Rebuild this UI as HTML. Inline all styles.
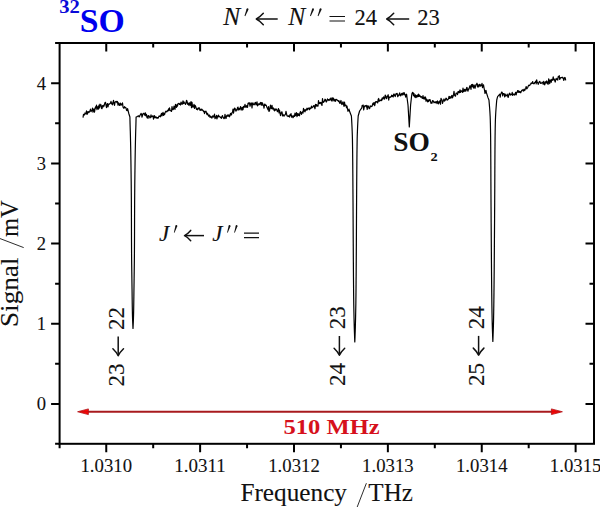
<!DOCTYPE html>
<html><head><meta charset="utf-8"><style>
html,body{margin:0;padding:0;background:#fff;}
svg{display:block;}
text{font-family:"Liberation Serif",serif;fill:#111;stroke:#111;stroke-width:0.1px;}
.b{stroke:none;}
</style></head><body>
<svg width="600" height="507" viewBox="0 0 600 507">
<rect x="0" y="0" width="600" height="507" fill="#fff"/>
<path d="M83.00 117.67 L83.50 114.34 L84.00 114.73 L84.50 114.95 L85.00 112.97 L85.50 113.79 L86.00 113.50 L86.50 110.76 L87.00 114.36 L87.50 113.50 L88.00 111.51 L88.50 111.88 L89.00 112.56 L89.50 111.23 L90.00 111.00 L90.50 109.05 L91.00 111.62 L91.50 110.78 L92.00 110.75 L92.50 108.00 L93.00 112.22 L93.50 109.90 L94.00 108.92 L94.50 112.08 L95.00 108.96 L95.50 106.78 L96.00 108.03 L96.50 105.19 L97.00 109.65 L97.50 107.39 L98.00 106.73 L98.50 109.07 L99.00 105.06 L99.50 107.92 L100.00 104.08 L100.50 105.85 L101.00 104.90 L101.50 108.43 L102.00 108.65 L102.50 105.52 L103.00 106.96 L103.50 105.33 L104.00 106.18 L104.50 104.14 L105.00 102.62 L105.50 102.32 L106.00 105.21 L106.50 107.67 L107.00 104.76 L107.50 103.51 L108.00 106.80 L108.50 104.32 L109.00 103.99 L109.50 104.07 L110.00 103.41 L110.50 103.04 L111.00 101.35 L111.50 103.96 L112.00 103.04 L112.50 104.77 L113.00 102.53 L113.50 100.34 L114.00 102.86 L114.50 105.38 L115.00 102.47 L115.50 101.78 L116.00 101.37 L116.50 101.60 L117.00 102.68 L117.50 101.48 L118.00 105.27 L118.50 102.83 L119.00 103.43 L119.50 105.35 L120.00 105.50 L120.50 103.17 L121.00 104.07 L121.50 105.03 L122.00 104.34 L122.50 102.86 L123.00 107.04 L123.50 108.12 L124.00 108.07 L124.50 106.61 L125.00 107.82 L125.50 107.38 L126.00 107.87 L126.50 110.18 L127.00 110.60 L127.50 109.51 L127.60 108.60 L128.80 113.50 L129.90 117.00 L129.99 120.58 L130.08 124.17 L130.18 127.75 L130.30 131.34 L130.40 134.92 L130.48 138.51 L130.57 142.09 L130.64 145.68 L130.72 149.26 L130.78 152.85 L130.84 156.43 L130.90 160.02 L130.95 163.60 L131.00 167.19 L131.05 170.77 L131.10 174.36 L131.14 177.94 L131.19 181.53 L131.23 185.11 L131.26 188.69 L131.29 192.28 L131.32 195.86 L131.35 199.45 L131.37 203.03 L131.38 206.62 L131.40 210.20 L131.41 213.79 L131.43 217.37 L131.44 220.96 L131.45 224.54 L131.46 228.13 L131.47 231.71 L131.48 235.30 L131.49 238.88 L131.51 242.47 L131.53 246.05 L131.55 249.64 L131.57 253.22 L131.60 256.81 L131.64 260.39 L131.68 263.97 L131.73 267.56 L131.78 271.14 L131.83 274.73 L131.88 278.31 L131.93 281.90 L131.98 285.48 L132.04 289.07 L132.09 292.65 L132.13 296.24 L132.18 299.82 L132.23 303.41 L132.29 306.99 L132.35 310.58 L132.43 314.16 L132.53 317.75 L132.66 321.33 L132.83 324.92 L133.00 328.50 L133.17 324.92 L133.34 321.33 L133.47 317.75 L133.57 314.16 L133.65 310.58 L133.71 306.99 L133.77 303.41 L133.82 299.82 L133.87 296.24 L133.91 292.65 L133.96 289.07 L134.02 285.48 L134.07 281.90 L134.12 278.31 L134.17 274.73 L134.22 271.14 L134.27 267.56 L134.32 263.97 L134.36 260.39 L134.40 256.81 L134.43 253.22 L134.45 249.64 L134.47 246.05 L134.49 242.47 L134.51 238.88 L134.52 235.30 L134.53 231.71 L134.54 228.13 L134.55 224.54 L134.56 220.96 L134.57 217.37 L134.59 213.79 L134.60 210.20 L134.62 206.62 L134.63 203.03 L134.65 199.45 L134.68 195.86 L134.71 192.28 L134.74 188.69 L134.77 185.11 L134.81 181.53 L134.86 177.94 L134.90 174.36 L134.95 170.77 L135.00 167.19 L135.05 163.60 L135.10 160.02 L135.16 156.43 L135.22 152.85 L135.28 149.26 L135.36 145.68 L135.43 142.09 L135.52 138.51 L135.60 134.92 L135.70 131.34 L135.82 127.75 L135.92 124.17 L136.01 120.58 L136.10 117.00 L137.20 116.60 L138.60 115.80 L139.00 116.85 L139.50 116.61 L140.00 115.19 L140.50 114.65 L141.00 113.43 L141.50 114.02 L142.00 117.16 L142.50 115.24 L143.00 113.62 L143.50 113.55 L144.00 113.14 L144.50 115.05 L145.00 115.27 L145.50 112.91 L146.00 115.83 L146.50 114.57 L147.00 117.58 L147.50 116.02 L148.00 118.40 L148.50 115.52 L149.00 115.91 L149.50 116.85 L150.00 117.98 L150.50 117.34 L151.00 114.87 L151.50 116.91 L152.00 116.73 L152.50 116.14 L153.00 115.87 L153.50 119.27 L154.00 116.31 L154.50 115.70 L155.00 117.81 L155.50 117.12 L156.00 116.85 L156.50 118.07 L157.00 117.67 L157.50 117.50 L158.00 118.35 L158.50 117.37 L159.00 116.04 L159.50 116.29 L160.00 115.92 L160.50 116.76 L161.00 114.74 L161.50 113.43 L162.00 115.85 L162.50 113.55 L163.00 112.37 L163.50 115.29 L164.00 113.41 L164.50 114.73 L165.00 112.92 L165.50 111.71 L166.00 111.15 L166.50 111.78 L167.00 111.73 L167.50 110.58 L168.00 110.97 L168.50 108.84 L169.00 110.67 L169.50 107.80 L170.00 109.73 L170.50 110.67 L171.00 110.90 L171.50 111.45 L172.00 106.54 L172.50 109.45 L173.00 109.74 L173.50 109.09 L174.00 106.08 L174.50 107.62 L175.00 109.33 L175.50 104.31 L176.00 106.76 L176.50 107.36 L177.00 104.54 L177.50 106.07 L178.00 103.50 L178.50 103.61 L179.00 103.34 L179.50 104.49 L180.00 103.82 L180.50 105.02 L181.00 102.12 L181.50 103.03 L182.00 104.35 L182.50 103.62 L183.00 100.86 L183.50 103.56 L184.00 101.93 L184.50 103.15 L185.00 103.08 L185.50 104.43 L186.00 102.97 L186.50 100.32 L187.00 101.12 L187.50 104.20 L188.00 102.97 L188.50 105.08 L189.00 104.04 L189.50 102.78 L190.00 105.52 L190.50 103.07 L191.00 101.60 L191.50 107.67 L192.00 102.45 L192.50 106.39 L193.00 107.21 L193.50 106.50 L194.00 104.33 L194.50 108.48 L195.00 105.40 L195.50 105.85 L196.00 107.49 L196.50 109.34 L197.00 108.86 L197.50 109.77 L198.00 108.20 L198.50 108.75 L199.00 107.56 L199.50 108.86 L200.00 110.29 L200.50 109.20 L201.00 110.44 L201.50 109.14 L202.00 109.29 L202.50 110.37 L203.00 110.25 L203.50 111.58 L204.00 111.25 L204.50 113.75 L205.00 111.40 L205.50 111.84 L206.00 111.21 L206.50 113.22 L207.00 114.68 L207.50 113.21 L208.00 114.67 L208.50 116.18 L209.00 115.37 L209.50 115.10 L210.00 117.36 L210.50 116.25 L211.00 116.77 L211.50 117.96 L212.00 118.01 L212.50 116.01 L213.00 115.84 L213.50 117.05 L214.00 116.54 L214.50 114.13 L215.00 118.63 L215.50 116.92 L216.00 117.96 L216.50 115.32 L217.00 118.79 L217.50 116.17 L218.00 116.85 L218.50 115.04 L219.00 116.77 L219.50 116.68 L220.00 116.74 L220.50 117.61 L221.00 117.08 L221.50 118.37 L222.00 116.34 L222.50 115.61 L223.00 116.97 L223.50 117.88 L224.00 118.74 L224.50 118.10 L225.00 114.37 L225.50 117.20 L226.00 118.51 L226.50 116.32 L227.00 115.25 L227.50 116.16 L228.00 114.80 L228.50 116.18 L229.00 115.04 L229.50 116.77 L230.00 115.27 L230.50 113.28 L231.00 114.85 L231.50 114.97 L232.00 112.47 L232.50 112.23 L233.00 109.15 L233.50 113.18 L234.00 110.65 L234.50 108.09 L235.00 108.22 L235.50 110.06 L236.00 111.12 L236.50 109.63 L237.00 110.13 L237.50 107.65 L238.00 107.06 L238.50 109.95 L239.00 109.19 L239.50 108.27 L240.00 109.94 L240.50 106.66 L241.00 107.26 L241.50 109.15 L242.00 110.15 L242.50 107.46 L243.00 109.66 L243.50 106.31 L244.00 107.46 L244.50 106.58 L245.00 104.39 L245.50 106.76 L246.00 107.47 L246.50 105.71 L247.00 105.56 L247.50 107.36 L248.00 103.42 L248.50 102.84 L249.00 103.80 L249.50 102.84 L250.00 106.23 L250.50 104.63 L251.00 102.88 L251.50 103.16 L252.00 108.01 L252.50 103.15 L253.00 102.94 L253.50 104.44 L254.00 104.91 L254.50 104.34 L255.00 102.77 L255.50 102.44 L256.00 104.92 L256.50 104.03 L257.00 101.83 L257.50 105.79 L258.00 105.26 L258.50 103.87 L259.00 103.87 L259.50 104.59 L260.00 103.34 L260.50 102.47 L261.00 104.90 L261.50 102.57 L262.00 105.29 L262.50 102.92 L263.00 105.01 L263.50 105.19 L264.00 108.11 L264.50 104.38 L265.00 104.14 L265.50 105.48 L266.00 105.06 L266.50 106.05 L267.00 107.69 L267.50 108.39 L268.00 109.82 L268.50 106.64 L269.00 111.52 L269.50 110.75 L270.00 107.84 L270.50 105.05 L271.00 108.28 L271.50 108.63 L272.00 105.45 L272.50 108.91 L273.00 108.67 L273.50 108.00 L274.00 110.13 L274.50 110.83 L275.00 108.92 L275.50 110.11 L276.00 109.08 L276.50 109.14 L277.00 110.65 L277.50 111.60 L278.00 110.44 L278.50 108.50 L279.00 112.81 L279.50 110.15 L280.00 112.93 L280.50 115.61 L281.00 113.43 L281.50 112.09 L282.00 111.95 L282.50 115.86 L283.00 114.43 L283.50 115.44 L284.00 116.21 L284.50 115.06 L285.00 114.90 L285.50 114.19 L286.00 111.36 L286.50 113.69 L287.00 115.82 L287.50 115.73 L288.00 116.56 L288.50 115.82 L289.00 116.20 L289.50 117.05 L290.00 114.67 L290.50 115.47 L291.00 113.57 L291.50 117.12 L292.00 115.74 L292.50 116.30 L293.00 117.70 L293.50 116.96 L294.00 115.28 L294.50 116.38 L295.00 113.18 L295.50 115.70 L296.00 115.19 L296.50 112.63 L297.00 116.65 L297.50 113.66 L298.00 115.45 L298.50 113.75 L299.00 115.55 L299.50 115.81 L300.00 112.62 L300.50 111.44 L301.00 113.18 L301.50 114.34 L302.00 112.41 L302.50 111.84 L303.00 113.15 L303.50 108.37 L304.00 111.07 L304.50 109.81 L305.00 111.89 L305.50 110.16 L306.00 109.31 L306.50 110.05 L307.00 108.16 L307.50 109.85 L308.00 108.56 L308.50 108.64 L309.00 107.82 L309.50 109.76 L310.00 108.00 L310.50 108.57 L311.00 108.21 L311.50 106.13 L312.00 107.80 L312.50 107.25 L313.00 106.98 L313.50 105.76 L314.00 105.52 L314.50 107.01 L315.00 108.78 L315.50 104.37 L316.00 106.09 L316.50 104.65 L317.00 106.08 L317.50 105.41 L318.00 106.09 L318.50 100.50 L319.00 103.38 L319.50 102.63 L320.00 103.65 L320.50 102.56 L321.00 102.43 L321.50 104.02 L322.00 105.45 L322.50 98.55 L323.00 101.78 L323.50 102.37 L324.00 101.66 L324.50 100.89 L325.00 99.22 L325.50 99.54 L326.00 101.65 L326.50 101.94 L327.00 100.39 L327.50 98.94 L328.00 100.13 L328.50 99.57 L329.00 100.58 L329.50 99.90 L330.00 98.79 L330.50 99.85 L331.00 97.87 L331.50 100.62 L332.00 101.09 L332.50 97.76 L333.00 99.99 L333.50 98.03 L334.00 100.99 L334.50 100.86 L335.00 99.40 L335.50 101.28 L336.00 99.48 L336.50 99.39 L337.00 99.73 L337.50 100.56 L338.00 100.56 L338.50 101.48 L339.00 100.65 L339.50 102.83 L340.00 103.43 L340.50 101.54 L341.00 100.48 L341.50 103.74 L342.00 104.59 L342.50 103.05 L343.00 101.77 L343.50 104.27 L344.00 106.37 L344.50 101.98 L345.00 105.67 L345.50 105.09 L346.00 105.04 L346.50 107.75 L347.00 106.09 L347.50 109.15 L348.00 111.29 L348.50 110.23 L349.00 109.05 L349.20 110.30 L350.70 114.20 L351.40 116.00 L351.64 119.83 L351.85 123.66 L352.03 127.49 L352.18 131.32 L352.33 135.15 L352.43 138.98 L352.49 142.81 L352.55 146.64 L352.60 150.47 L352.65 154.31 L352.69 158.14 L352.73 161.97 L352.76 165.80 L352.79 169.63 L352.82 173.46 L352.85 177.29 L352.88 181.12 L352.90 184.95 L352.93 188.78 L352.95 192.61 L352.98 196.44 L353.00 200.27 L353.03 204.10 L353.05 207.93 L353.07 211.76 L353.09 215.59 L353.11 219.42 L353.13 223.25 L353.15 227.08 L353.17 230.92 L353.19 234.75 L353.21 238.58 L353.23 242.41 L353.26 246.24 L353.28 250.07 L353.31 253.90 L353.33 257.73 L353.36 261.56 L353.39 265.39 L353.41 269.22 L353.44 273.05 L353.47 276.88 L353.51 280.71 L353.54 284.54 L353.57 288.37 L353.61 292.20 L353.65 296.03 L353.70 299.86 L353.75 303.69 L353.82 307.53 L353.89 311.36 L353.97 315.19 L354.05 319.02 L354.15 322.85 L354.25 326.68 L354.36 330.51 L354.50 334.34 L354.64 338.17 L354.80 342.00 L354.96 338.17 L355.10 334.34 L355.24 330.51 L355.35 326.68 L355.45 322.85 L355.55 319.02 L355.63 315.19 L355.71 311.36 L355.78 307.53 L355.85 303.69 L355.90 299.86 L355.95 296.03 L355.99 292.20 L356.03 288.37 L356.06 284.54 L356.09 280.71 L356.13 276.88 L356.16 273.05 L356.19 269.22 L356.21 265.39 L356.24 261.56 L356.27 257.73 L356.29 253.90 L356.32 250.07 L356.34 246.24 L356.37 242.41 L356.39 238.58 L356.41 234.75 L356.43 230.92 L356.45 227.08 L356.47 223.25 L356.49 219.42 L356.51 215.59 L356.53 211.76 L356.55 207.93 L356.57 204.10 L356.60 200.27 L356.62 196.44 L356.65 192.61 L356.67 188.78 L356.70 184.95 L356.72 181.12 L356.75 177.29 L356.78 173.46 L356.81 169.63 L356.84 165.80 L356.87 161.97 L356.91 158.14 L356.95 154.31 L357.00 150.47 L357.05 146.64 L357.11 142.81 L357.17 138.98 L357.27 135.15 L357.42 131.32 L357.57 127.49 L357.75 123.66 L357.96 119.83 L358.20 116.00 L359.60 111.00 L361.80 107.90 L362.20 105.35 L362.70 105.98 L363.20 105.13 L363.70 109.88 L364.20 107.22 L364.70 106.03 L365.20 105.60 L365.70 105.85 L366.20 106.80 L366.70 105.40 L367.20 109.46 L367.70 105.97 L368.20 105.83 L368.70 107.25 L369.20 108.74 L369.70 108.43 L370.20 105.76 L370.70 106.62 L371.20 106.25 L371.70 106.53 L372.20 105.86 L372.70 103.86 L373.20 103.08 L373.70 104.74 L374.20 102.48 L374.70 105.67 L375.20 103.45 L375.70 101.58 L376.20 102.21 L376.70 101.60 L377.20 101.80 L377.70 103.00 L378.20 99.37 L378.70 98.50 L379.20 101.31 L379.70 100.31 L380.20 100.51 L380.70 100.64 L381.20 99.49 L381.70 100.60 L382.20 97.98 L382.70 99.06 L383.20 97.57 L383.70 96.91 L384.20 99.12 L384.70 98.83 L385.20 95.10 L385.70 96.05 L386.20 97.83 L386.70 98.73 L387.20 96.12 L387.70 96.61 L388.20 94.72 L388.70 100.04 L389.20 97.02 L389.70 97.45 L390.20 96.96 L390.70 97.19 L391.20 96.59 L391.70 95.12 L392.20 96.50 L392.70 95.43 L393.20 97.01 L393.70 94.04 L394.20 94.19 L394.70 95.76 L395.20 96.50 L395.70 94.78 L396.20 93.45 L396.70 94.16 L397.20 93.50 L397.70 96.74 L398.20 95.23 L398.70 95.64 L399.20 94.20 L399.70 92.91 L400.20 95.26 L400.70 95.88 L401.20 94.34 L401.70 93.47 L402.20 95.02 L402.70 93.05 L403.20 94.75 L403.70 92.84 L404.20 92.65 L404.70 94.97 L405.20 94.80 L405.70 97.12 L406.20 94.13 L406.70 94.62 L406.80 96.00 L408.00 105.00 L409.30 127.00 L410.60 105.00 L411.60 96.00 L412.00 93.40 L412.50 92.42 L413.00 92.57 L413.50 95.74 L414.00 93.47 L414.50 96.72 L415.00 97.16 L415.50 94.80 L416.00 97.55 L416.50 95.58 L417.00 96.88 L417.50 95.03 L418.00 96.74 L418.50 94.16 L419.00 96.48 L419.50 95.13 L420.00 95.79 L420.50 97.08 L421.00 96.68 L421.50 96.59 L422.00 97.98 L422.50 98.36 L423.00 95.56 L423.50 98.54 L424.00 98.94 L424.50 97.20 L425.00 99.07 L425.50 96.97 L426.00 101.16 L426.50 99.14 L427.00 99.70 L427.50 101.82 L428.00 100.26 L428.50 101.61 L429.00 99.59 L429.50 100.52 L430.00 99.60 L430.50 101.45 L431.00 103.32 L431.50 102.28 L432.00 103.24 L432.50 100.56 L433.00 100.75 L433.50 101.32 L434.00 102.76 L434.50 102.44 L435.00 101.89 L435.50 102.75 L436.00 101.64 L436.50 101.78 L437.00 103.60 L437.50 100.91 L438.00 101.95 L438.50 103.90 L439.00 101.74 L439.50 102.54 L440.00 100.65 L440.50 104.18 L441.00 98.23 L441.50 99.71 L442.00 99.74 L442.50 103.38 L443.00 101.50 L443.50 100.52 L444.00 98.97 L444.50 101.15 L445.00 100.66 L445.50 99.38 L446.00 98.11 L446.50 98.48 L447.00 100.12 L447.50 100.03 L448.00 99.44 L448.50 98.84 L449.00 96.28 L449.50 98.51 L450.00 96.67 L450.50 97.84 L451.00 98.09 L451.50 96.16 L452.00 95.33 L452.50 97.82 L453.00 96.60 L453.50 94.90 L454.00 91.30 L454.50 95.14 L455.00 95.80 L455.50 96.20 L456.00 93.39 L456.50 93.14 L457.00 93.13 L457.50 94.63 L458.00 91.52 L458.50 92.72 L459.00 91.30 L459.50 92.69 L460.00 89.86 L460.50 92.30 L461.00 90.81 L461.50 90.94 L462.00 91.74 L462.50 92.35 L463.00 88.13 L463.50 91.66 L464.00 90.78 L464.50 89.34 L465.00 91.47 L465.50 89.53 L466.00 90.84 L466.50 87.97 L467.00 87.36 L467.50 90.08 L468.00 91.20 L468.50 88.86 L469.00 89.05 L469.50 86.98 L470.00 85.64 L470.50 87.06 L471.00 89.36 L471.50 84.54 L472.00 86.36 L472.50 84.28 L473.00 87.02 L473.50 88.00 L474.00 84.95 L474.50 86.03 L475.00 88.37 L475.50 86.28 L476.00 84.57 L476.50 84.33 L477.00 83.20 L477.50 86.93 L478.00 84.63 L478.50 86.98 L479.00 86.56 L479.50 84.29 L480.00 84.36 L480.50 86.12 L481.00 85.21 L481.50 85.55 L482.00 83.34 L482.50 87.58 L483.00 85.89 L483.50 84.76 L484.00 87.84 L484.50 90.15 L485.00 93.51 L485.50 91.04 L486.00 90.45 L486.40 92.60 L487.90 97.40 L488.95 100.00 L489.31 104.09 L489.64 108.19 L489.92 112.28 L490.15 116.37 L490.31 120.47 L490.41 124.56 L490.50 128.65 L490.56 132.75 L490.62 136.84 L490.66 140.93 L490.69 145.03 L490.73 149.12 L490.76 153.21 L490.78 157.31 L490.81 161.40 L490.83 165.49 L490.85 169.58 L490.87 173.68 L490.88 177.77 L490.90 181.86 L490.92 185.96 L490.94 190.05 L490.97 194.14 L490.99 198.24 L491.01 202.33 L491.04 206.42 L491.07 210.52 L491.10 214.61 L491.12 218.70 L491.15 222.80 L491.18 226.89 L491.21 230.98 L491.24 235.08 L491.27 239.17 L491.30 243.26 L491.33 247.36 L491.36 251.45 L491.39 255.54 L491.42 259.64 L491.46 263.73 L491.49 267.82 L491.52 271.92 L491.56 276.01 L491.60 280.10 L491.64 284.19 L491.68 288.29 L491.73 292.38 L491.78 296.47 L491.83 300.57 L491.88 304.66 L491.95 308.75 L492.01 312.85 L492.09 316.94 L492.17 321.03 L492.28 325.13 L492.40 329.22 L492.54 333.31 L492.69 337.41 L492.85 341.50 L493.01 337.41 L493.16 333.31 L493.30 329.22 L493.42 325.13 L493.53 321.03 L493.61 316.94 L493.69 312.85 L493.75 308.75 L493.82 304.66 L493.87 300.57 L493.92 296.47 L493.97 292.38 L494.02 288.29 L494.06 284.19 L494.10 280.10 L494.14 276.01 L494.18 271.92 L494.21 267.82 L494.24 263.73 L494.28 259.64 L494.31 255.54 L494.34 251.45 L494.37 247.36 L494.40 243.26 L494.43 239.17 L494.46 235.08 L494.49 230.98 L494.52 226.89 L494.55 222.80 L494.58 218.70 L494.60 214.61 L494.63 210.52 L494.66 206.42 L494.69 202.33 L494.71 198.24 L494.73 194.14 L494.76 190.05 L494.78 185.96 L494.80 181.86 L494.82 177.77 L494.83 173.68 L494.85 169.58 L494.87 165.49 L494.89 161.40 L494.92 157.31 L494.94 153.21 L494.97 149.12 L495.01 145.03 L495.04 140.93 L495.08 136.84 L495.14 132.75 L495.20 128.65 L495.29 124.56 L495.39 120.47 L495.55 116.37 L495.78 112.28 L496.06 108.19 L496.39 104.09 L496.75 100.00 L497.60 96.60 L499.80 94.20 L500.20 97.09 L500.70 94.10 L501.20 93.28 L501.70 92.10 L502.20 92.28 L502.70 95.90 L503.20 93.65 L503.70 93.50 L504.20 93.79 L504.70 96.93 L505.20 94.13 L505.70 96.01 L506.20 95.63 L506.70 95.63 L507.20 94.06 L507.70 96.18 L508.20 97.47 L508.70 95.08 L509.20 93.79 L509.70 93.19 L510.20 95.17 L510.70 94.42 L511.20 94.54 L511.70 94.59 L512.20 92.39 L512.70 95.43 L513.20 94.55 L513.70 94.00 L514.20 94.29 L514.70 95.11 L515.20 93.73 L515.70 92.29 L516.20 94.92 L516.70 92.49 L517.20 91.88 L517.70 90.50 L518.20 92.49 L518.70 90.80 L519.20 91.32 L519.70 92.46 L520.20 91.66 L520.70 92.82 L521.20 91.60 L521.70 90.39 L522.20 90.26 L522.70 89.78 L523.20 91.16 L523.70 90.03 L524.20 89.17 L524.70 90.66 L525.20 89.34 L525.70 88.26 L526.20 86.50 L526.70 88.91 L527.20 88.26 L527.70 87.55 L528.20 86.35 L528.70 85.23 L529.20 85.50 L529.70 85.54 L530.20 84.46 L530.70 83.89 L531.20 82.94 L531.70 83.64 L532.20 83.16 L532.70 81.55 L533.20 83.57 L533.70 83.62 L534.20 83.68 L534.70 82.41 L535.20 82.38 L535.70 81.11 L536.20 83.88 L536.70 79.92 L537.20 82.45 L537.70 82.61 L538.20 84.36 L538.70 83.22 L539.20 81.92 L539.70 81.30 L540.20 82.28 L540.70 83.43 L541.20 83.31 L541.70 82.90 L542.20 82.14 L542.70 82.71 L543.20 84.30 L543.70 81.24 L544.20 82.71 L544.70 84.80 L545.20 83.17 L545.70 81.63 L546.20 83.06 L546.70 80.95 L547.20 81.87 L547.70 83.86 L548.20 84.15 L548.70 78.90 L549.20 82.05 L549.70 83.58 L550.20 79.86 L550.70 80.77 L551.20 82.30 L551.70 79.30 L552.20 80.44 L552.70 79.57 L553.20 76.83 L553.70 79.90 L554.20 79.05 L554.70 80.50 L555.20 82.03 L555.70 79.95 L556.20 78.39 L556.70 79.44 L557.20 79.01 L557.70 80.09 L558.20 76.59 L558.70 76.92 L559.20 75.66 L559.70 79.35 L560.20 78.47 L560.70 77.60 L561.20 77.49 L561.70 77.70 L562.20 77.21 L562.70 78.07 L563.20 77.84 L563.70 80.50 L564.20 79.03 L564.70 77.46 L565.20 77.83 L565.70 80.37" fill="none" stroke="#000" stroke-width="1.2" stroke-linejoin="round"/>
<path d="M59.60 443.80 L59.60 448.30 M106.25 443.80 L106.25 452.30 M106.25 43.00 L106.25 51.50 M153.19 443.80 L153.19 448.30 M153.19 43.00 L153.19 47.50 M200.12 443.80 L200.12 452.30 M200.12 43.00 L200.12 51.50 M247.06 443.80 L247.06 448.30 M247.06 43.00 L247.06 47.50 M294.00 443.80 L294.00 452.30 M294.00 43.00 L294.00 51.50 M340.94 443.80 L340.94 448.30 M340.94 43.00 L340.94 47.50 M387.87 443.80 L387.87 452.30 M387.87 43.00 L387.87 51.50 M434.81 443.80 L434.81 448.30 M434.81 43.00 L434.81 47.50 M481.75 443.80 L481.75 452.30 M481.75 43.00 L481.75 51.50 M528.69 443.80 L528.69 448.30 M528.69 43.00 L528.69 47.50 M575.62 443.80 L575.62 452.30 M575.62 43.00 L575.62 51.50 M59.60 443.80 L55.10 443.80 M59.60 403.90 L51.10 403.90 M594.00 403.90 L585.50 403.90 M59.60 363.82 L55.10 363.82 M594.00 363.82 L589.50 363.82 M59.60 323.74 L51.10 323.74 M594.00 323.74 L585.50 323.74 M59.60 283.66 L55.10 283.66 M594.00 283.66 L589.50 283.66 M59.60 243.58 L51.10 243.58 M594.00 243.58 L585.50 243.58 M59.60 203.50 L55.10 203.50 M594.00 203.50 L589.50 203.50 M59.60 163.42 L51.10 163.42 M594.00 163.42 L585.50 163.42 M59.60 123.34 L55.10 123.34 M594.00 123.34 L589.50 123.34 M59.60 83.26 L51.10 83.26 M594.00 83.26 L585.50 83.26 M59.60 43.00 L55.10 43.00" fill="none" stroke="#000" stroke-width="2"/>
<rect x="59.6" y="43.0" width="534.40" height="400.80" fill="none" stroke="#000" stroke-width="2"/>
<g font-size="18.6"><text x="106.25" y="471.6" text-anchor="middle" textLength="51.5" lengthAdjust="spacingAndGlyphs">1.0310</text><text x="200.12" y="471.6" text-anchor="middle" textLength="51.5" lengthAdjust="spacingAndGlyphs">1.0311</text><text x="294.00" y="471.6" text-anchor="middle" textLength="51.5" lengthAdjust="spacingAndGlyphs">1.0312</text><text x="387.87" y="471.6" text-anchor="middle" textLength="51.5" lengthAdjust="spacingAndGlyphs">1.0313</text><text x="481.75" y="471.6" text-anchor="middle" textLength="51.5" lengthAdjust="spacingAndGlyphs">1.0314</text><text x="575.62" y="471.6" text-anchor="middle" textLength="51.5" lengthAdjust="spacingAndGlyphs">1.0315</text><text x="46.1" y="410.20" text-anchor="end">0</text><text x="46.1" y="330.04" text-anchor="end">1</text><text x="46.1" y="249.88" text-anchor="end">2</text><text x="46.1" y="169.72" text-anchor="end">3</text><text x="46.1" y="89.56" text-anchor="end">4</text></g>
<text x="59.3" y="12.6" font-size="18" font-weight="bold" class="b" style="fill:#0a0ad8" textLength="20.6" lengthAdjust="spacingAndGlyphs">32</text>
<text x="79.8" y="31.6" font-size="33.5" font-weight="bold" class="b" style="fill:#0000ee" textLength="45" lengthAdjust="spacingAndGlyphs">SO</text>
<text x="223.2" y="24.7" font-style="italic" font-size="25.5">N</text><path d="M246.61 8.96 L244.53 15.86 L245.27 16.14 L248.39 9.64 Z" fill="#111"/><circle cx="247.50" cy="9.30" r="0.95" fill="#111"/><path d="M256.90 19.00 L277.70 19.00" stroke="#111" stroke-width="1.5" fill="none"/><path d="M263.30 13.30 Q259.45 17.57 256.30 19.00 Q259.45 20.43 263.30 24.70" stroke="#111" stroke-width="1.5" fill="none" stroke-linecap="round" stroke-linejoin="round"/><text x="288.3" y="24.7" font-style="italic" font-size="25.5">N</text><path d="M312.11 8.96 L310.03 15.86 L310.77 16.14 L313.89 9.64 Z" fill="#111"/><circle cx="313.00" cy="9.30" r="0.95" fill="#111"/><path d="M319.71 8.96 L317.63 15.86 L318.37 16.14 L321.49 9.64 Z" fill="#111"/><circle cx="320.60" cy="9.30" r="0.95" fill="#111"/><path d="M329.5 16.5 L345 16.5 M329.5 21.0 L345 21.0" stroke="#111" stroke-width="1.2"/><text x="354.6" y="24.6" font-size="22.5">24</text><path d="M387.30 19.00 L409.20 19.00" stroke="#111" stroke-width="1.5" fill="none"/><path d="M393.70 13.30 Q389.85 17.57 386.70 19.00 Q389.85 20.43 393.70 24.70" stroke="#111" stroke-width="1.5" fill="none" stroke-linecap="round" stroke-linejoin="round"/><text x="417.3" y="24.6" font-size="22.5">23</text>
<text x="159" y="240.5" font-style="italic" font-size="23">J</text><path d="M175.54 225.62 L173.87 232.49 L174.53 232.71 L177.26 226.18 Z" fill="#111"/><circle cx="176.40" cy="225.90" r="0.90" fill="#111"/><path d="M185.10 235.60 L204.00 235.60" stroke="#111" stroke-width="1.5" fill="none"/><path d="M190.70 230.40 Q187.29 234.30 184.50 235.60 Q187.29 236.90 190.70 240.80" stroke="#111" stroke-width="1.5" fill="none" stroke-linecap="round" stroke-linejoin="round"/><text x="212.2" y="240.5" font-style="italic" font-size="23">J</text><path d="M228.74 225.62 L227.07 232.49 L227.73 232.71 L230.46 226.18 Z" fill="#111"/><circle cx="229.60" cy="225.90" r="0.90" fill="#111"/><path d="M235.74 225.63 L234.17 232.50 L234.83 232.70 L237.46 226.17 Z" fill="#111"/><circle cx="236.60" cy="225.90" r="0.90" fill="#111"/><path d="M244 233.2 L259 233.2 M244 237.6 L259 237.6" stroke="#111" stroke-width="1.2"/>
<text x="393.2" y="151.2" font-size="26.8" font-weight="bold" class="b" textLength="36.6" lengthAdjust="spacingAndGlyphs">SO</text>
<text x="430.5" y="161.1" font-size="13.3" font-weight="bold" class="b" textLength="7.2" lengthAdjust="spacingAndGlyphs">2</text>
<g transform="translate(124.0,386.6) rotate(-90)"><text x="0" y="0" font-size="23">23</text><path d="M31.40 -5.80 L50.00 -5.80" stroke="#111" stroke-width="1.5" fill="none"/><path d="M37.80 -11.10 Q33.95 -7.12 30.80 -5.80 Q33.95 -4.47 37.80 -0.50" stroke="#111" stroke-width="1.5" fill="none" stroke-linecap="round" stroke-linejoin="round"/><text x="56.7" y="0" font-size="23">22</text></g><g transform="translate(345.2,386.0) rotate(-90)"><text x="0" y="0" font-size="23">24</text><path d="M31.40 -5.80 L50.00 -5.80" stroke="#111" stroke-width="1.5" fill="none"/><path d="M37.80 -11.10 Q33.95 -7.12 30.80 -5.80 Q33.95 -4.47 37.80 -0.50" stroke="#111" stroke-width="1.5" fill="none" stroke-linecap="round" stroke-linejoin="round"/><text x="56.7" y="0" font-size="23">23</text></g><g transform="translate(484.4,385.9) rotate(-90)"><text x="0" y="0" font-size="23">25</text><path d="M31.40 -5.80 L50.00 -5.80" stroke="#111" stroke-width="1.5" fill="none"/><path d="M37.80 -11.10 Q33.95 -7.12 30.80 -5.80 Q33.95 -4.47 37.80 -0.50" stroke="#111" stroke-width="1.5" fill="none" stroke-linecap="round" stroke-linejoin="round"/><text x="56.7" y="0" font-size="23">24</text></g>
<text transform="translate(18.0,327.0) rotate(-90)" font-size="24.5" textLength="69.5" lengthAdjust="spacingAndGlyphs">Signal</text>
<text transform="translate(18.0,237.0) rotate(-90)" font-size="24.5" textLength="36.8" lengthAdjust="spacingAndGlyphs">mV</text>
<path d="M-2 237.8 L23.7 247.6" stroke="#222" stroke-width="0.95"/>
<text x="240.4" y="501.3" font-size="25" textLength="106.6" lengthAdjust="spacingAndGlyphs">Frequency</text>
<text x="368.3" y="501.3" font-size="25" textLength="44.6" lengthAdjust="spacingAndGlyphs">THz</text>
<path d="M366.4 483.2 L356.8 508" stroke="#222" stroke-width="0.95"/>
<line x1="86" y1="411.75" x2="553" y2="411.75" stroke="#a81a1e" stroke-width="2"/>
<path d="M77.6 411.75 L88.4 408.9 L88.4 414.6 Z" fill="#ff0404" stroke="#b01418" stroke-width="0.8" stroke-linejoin="round"/>
<path d="M562.4 411.75 L551.4 408.9 L551.4 414.6 Z" fill="#ff0404" stroke="#b01418" stroke-width="0.8" stroke-linejoin="round"/>
<path d="M80 411.75 L88 411.75 M552 411.75 L560 411.75" stroke="#c01010" stroke-width="0.8"/>
<text x="283.6" y="434.1" font-size="21.5" font-weight="bold" class="b" style="fill:#d6101c" textLength="96" lengthAdjust="spacingAndGlyphs">510 MHz</text>
</svg>
</body></html>
